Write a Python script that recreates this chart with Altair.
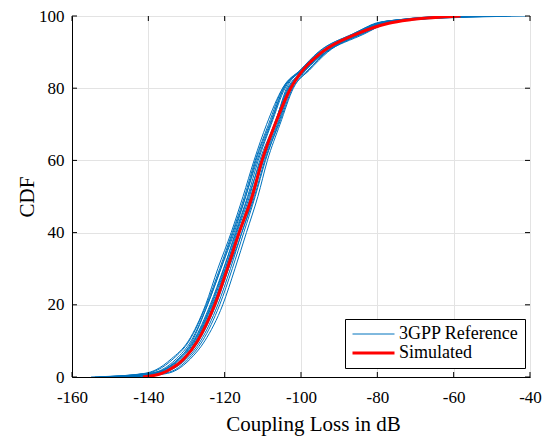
import altair as alt
import pandas as pd

# CDF levels (percent) at which each curve's coupling loss (dB) is read
levels = [0, 1, 2, 5, 10, 20, 30, 40, 50, 60, 70, 80, 85, 90, 95, 98, 99, 100]

simulated = [-141.4, -136.5, -134.5, -130.7, -127.1, -122.6, -119.3, -116.2, -112.8,
             -110.2, -106.8, -102.7, -99.5, -94.5, -85.5, -77.0, -71.0, -58.2]

ref_01 = [-155, -140, -136, -132, -128.5, -124.5, -121, -117.5, -114.5, -111.5, -108, -104.5, -100.2, -95.5, -86.5, -80, -74, -62]
ref_02 = [-150, -138, -135, -131, -127.5, -123, -119.8, -116.8, -113.5, -110.8, -107, -103.5, -99.2, -94.5, -85.5, -79, -73, -55]
ref_03 = [-148, -137, -134, -130, -126.3, -121.8, -118.5, -115.5, -112.2, -109.5, -105.8, -102.2, -97.8, -93, -84.5, -78, -71, -50]
ref_04 = [-152, -140.5, -137.5, -133.5, -129.3, -124.8, -121.3, -118, -114.8, -112, -108.5, -104.8, -100.2, -95, -85.5, -78.5, -72, -45]
ref_05 = [-146, -136, -133, -129.5, -125.8, -121.3, -118, -115, -112, -109.3, -106, -102.5, -98.8, -94, -86, -80, -74, -60]
ref_06 = [-151, -139, -136, -132.2, -128.2, -123.8, -120.3, -117, -113.8, -110.5, -107, -103.3, -98.8, -93.5, -84, -77, -70, -52]
ref_07 = [-149, -138.5, -135.5, -131.5, -127.8, -123.4, -119.9, -116.5, -113, -110, -106.5, -103, -99, -94.3, -85.5, -79.5, -72.5, -48]
ref_08 = [-147, -137.5, -134.2, -130.5, -126.8, -122.3, -119, -116, -112.8, -109.8, -106.2, -102.7, -98.2, -93.3, -84.3, -78, -71.5, -57]
ref_09 = [-153, -141, -138, -134, -129.5, -125, -121.8, -118.3, -115.2, -112.3, -109, -104.8, -99.5, -93.5, -83.5, -77.5, -71, -41]
ref_10 = [-144, -135, -132.5, -129, -125.2, -120.5, -117.3, -114.3, -111.3, -108.8, -105.5, -102, -98, -93.5, -85, -79, -72, -63]
ref_11 = [-150, -139, -135.8, -131.8, -128, -123.6, -120.2, -117.2, -114, -111.2, -107.8, -104.2, -100, -95.3, -86.5, -80, -73.5, -50]
ref_12 = [-148, -137.8, -134.8, -130.8, -127, -122.8, -119.5, -116.3, -113.2, -110.2, -106.8, -103.2, -99, -94, -85, -78.5, -71, -46]
ref_13 = [-146, -138, -134.5, -131, -127.5, -123.2, -119, -115.5, -112.5, -110, -106.8, -103.8, -99.7, -94.7, -85.7, -79.5, -73, -54]
ref_14 = [-154, -139.5, -136.5, -132.7, -128.8, -124.5, -121, -117.8, -114.5, -111.8, -108.2, -104.5, -99.7, -94.7, -86, -80.5, -74, -58]

references = [ref_01, ref_02, ref_03, ref_04, ref_05, ref_06, ref_07,
              ref_08, ref_09, ref_10, ref_11, ref_12, ref_13, ref_14]

x_ticks = [-160, -140, -120, -100, -80, -60, -40]
y_ticks = [0, 20, 40, 60, 80, 100]

series_names = ["3GPP Reference", "Simulated"]

rows = []
for i, curve in enumerate(references):
    for lv, xv in zip(levels, curve):
        rows.append({"loss": xv, "cdf": lv, "curve": f"ref{i}", "series": series_names[0]})
ref_df = pd.DataFrame(rows)
sim_df = pd.DataFrame({"loss": simulated, "cdf": levels, "curve": "sim", "series": series_names[1]})

W, H = 458, 361
FONT = "Liberation Serif"

xscale = alt.Scale(domain=[-160, -40], nice=False)
yscale = alt.Scale(domain=[0, 100], nice=False)
color = alt.Color("series:N", scale=alt.Scale(domain=series_names, range=["#0072BD", "#FF0000"]),
                  legend=alt.Legend(title=None, orient="none", legendX=273, legendY=303,
                                    symbolType="stroke", symbolSize=1764, clipHeight=18,
                                    labelFont=FONT, labelFontSize=18, labelColor="black",
                                    strokeColor="black", fillColor="white", padding=6,
                                    rowPadding=1, labelOffset=3, cornerRadius=0))
swidth = alt.StrokeWidth("series:N", scale=alt.Scale(domain=series_names, range=[1, 3]), legend=None)

xaxis = alt.Axis(values=x_ticks, title="Coupling Loss in dB", grid=True, gridColor="#e3e3e3",
                 tickSize=0, labelExpr="'' + datum.value", labelPadding=12,
                 labelFont=FONT, labelFontSize=17, titleX=241, titleY=53,
                 titleBaseline="alphabetic", titleAlign="center", domainColor="black",
                 labelFlush=False)
yaxis = alt.Axis(values=y_ticks, title="CDF", grid=True, gridColor="#e3e3e3",
                 tickSize=0, labelExpr="'' + datum.value", labelPadding=8,
                 labelFont=FONT, labelFontSize=17, titlePadding=1, domainColor="black",
                 labelFlush=False)

ref_layer = alt.Chart(ref_df).mark_line(clip=True, interpolate="monotone").encode(
    x=alt.X("loss:Q", scale=xscale, axis=xaxis),
    y=alt.Y("cdf:Q", scale=yscale, axis=yaxis),
    color=color, strokeWidth=swidth, detail="curve:N",
)
sim_layer = alt.Chart(sim_df).mark_line(clip=True, interpolate="monotone").encode(
    x=alt.X("loss:Q", scale=xscale),
    y=alt.Y("cdf:Q", scale=yscale),
    color=color, strokeWidth=swidth, detail="curve:N",
)

xt = pd.DataFrame({"t": x_ticks})
yt = pd.DataFrame({"t": y_ticks})
tick_b = alt.Chart(xt).mark_rule(color="black", strokeWidth=1).encode(
    x=alt.X("t:Q", scale=xscale), y=alt.value(H), y2=alt.value(H - 5))
tick_t = alt.Chart(xt).mark_rule(color="black", strokeWidth=1).encode(
    x=alt.X("t:Q", scale=xscale), y=alt.value(0), y2=alt.value(5))
tick_l = alt.Chart(yt).mark_rule(color="black", strokeWidth=1).encode(
    y=alt.Y("t:Q", scale=yscale), x=alt.value(0), x2=alt.value(5))
tick_r = alt.Chart(yt).mark_rule(color="black", strokeWidth=1).encode(
    y=alt.Y("t:Q", scale=yscale), x=alt.value(W), x2=alt.value(W - 5))

chart = alt.layer(ref_layer, sim_layer, tick_b, tick_t, tick_l, tick_r).properties(
    width=W, height=H,
    autosize=alt.AutoSizeParams(type="none"),
    padding={"left": 72, "top": 16, "right": 14, "bottom": 61},
).configure(
    background="white", font=FONT,
).configure_view(
    stroke="black", strokeWidth=1
).configure_axis(
    labelColor="black",
    titleFont=FONT, titleFontSize=21, titleFontWeight="normal", titleColor="black",
)

chart.save("out.html", embed_options={"renderer": "svg", "actions": False})
